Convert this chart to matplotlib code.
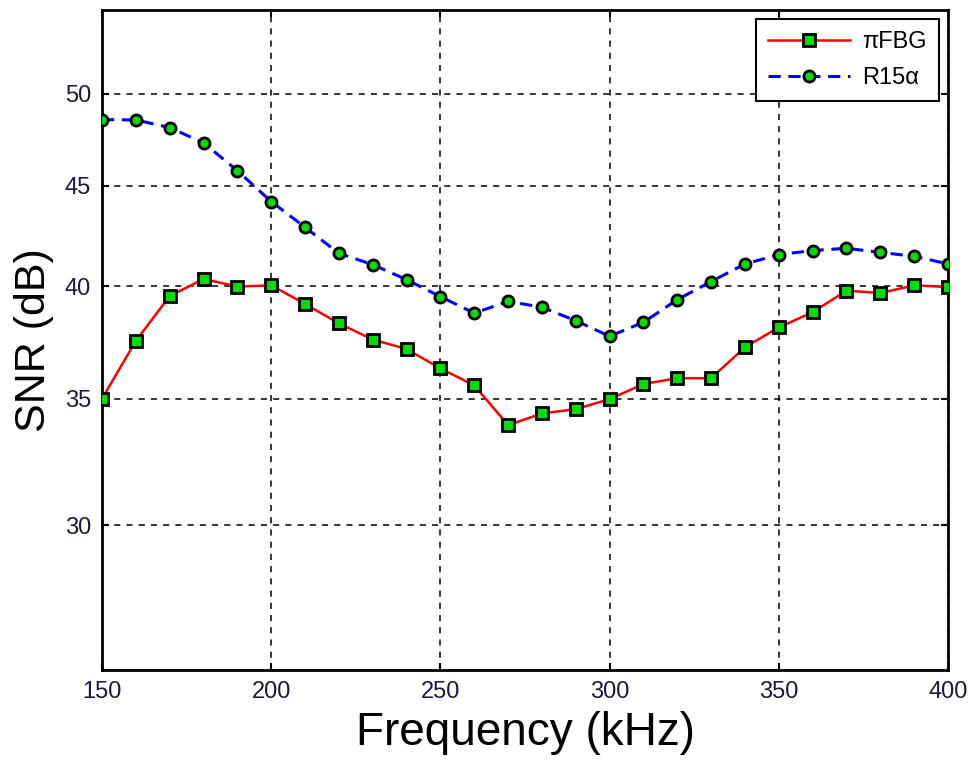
import numpy as np
import matplotlib
matplotlib.use("Agg")
import matplotlib.pyplot as plt

freq = list(range(150, 401, 10))
pifbg = [35.0, 37.5, 39.55, 40.35, 39.99, 40.05, 39.18, 38.29, 37.56, 37.14,
         36.29, 35.56, 33.9, 34.38, 34.56, 34.98, 35.62, 35.87, 35.87, 37.22,
         38.11, 38.8, 39.8, 39.69, 40.05, 39.97]
r15a = [48.55, 48.53, 48.11, 47.27, 45.78, 44.17, 42.87, 41.58, 41.04, 40.32,
        39.52, 38.76, 39.3, 39.03, 38.41, 37.71, 38.34, 39.38, 40.23, 41.07,
        41.52, 41.72, 41.83, 41.63, 41.44, 41.07]
xticks = [150, 200, 250, 300, 350, 400]
yticks = [30, 35, 40, 45, 50]

plt.rcParams['font.family'] = ['Liberation Sans', 'DejaVu Sans']

fig = plt.figure(figsize=(9.72, 7.6), dpi=100)
ax = fig.add_axes([102/972, 1-670/760, (948-102)/972, (670-10)/760])

off = 7.0
ax.set_yscale('function', functions=(lambda y: np.log(np.maximum(y + off, 1e-9)),
                                     lambda v: np.exp(v) - off))

ax.plot(freq, pifbg, '-', color='red', lw=1.8, marker='s', markersize=9,
        markerfacecolor='#00dd00', markeredgecolor='black', markeredgewidth=2,
        label='πFBG', zorder=3)
ax.plot(freq, r15a, '--', color='blue', lw=2.2, dashes=(4, 2.5), marker='o', markersize=8,
        markerfacecolor='#00dd00', markeredgecolor='black', markeredgewidth=2,
        label='R15α', zorder=3)

ax.set_xlim(150, 400)
ax.set_ylim(25, 55)
ax.set_xticks(xticks)
ax.set_yticks(yticks)
ax.yaxis.set_minor_locator(matplotlib.ticker.NullLocator())
ax.set_xticklabels([str(t) for t in xticks])
ax.set_yticklabels([str(t) for t in yticks])
ax.tick_params(direction='in', length=5, width=1.5, labelsize=17, pad=8,
               top=True, right=True, labelcolor='#1a1a3a')
ax.grid(True, color='black', linestyle=(0, (4, 4)), linewidth=1.1)
for s in ax.spines.values():
    s.set_linewidth(2)

ax.set_xlabel('Frequency (kHz)', fontsize=33, labelpad=6)
ax.set_ylabel('SNR (dB)', fontsize=31, labelpad=8)

leg = ax.legend(loc='upper right', fontsize=17, frameon=True, fancybox=False,
                edgecolor='black', framealpha=1, handlelength=3.5,
                borderaxespad=0.4, borderpad=0.5, labelspacing=0.6, handletextpad=0.5)
leg.get_frame().set_linewidth(1.5)

fig.savefig('out.png', dpi=100)
